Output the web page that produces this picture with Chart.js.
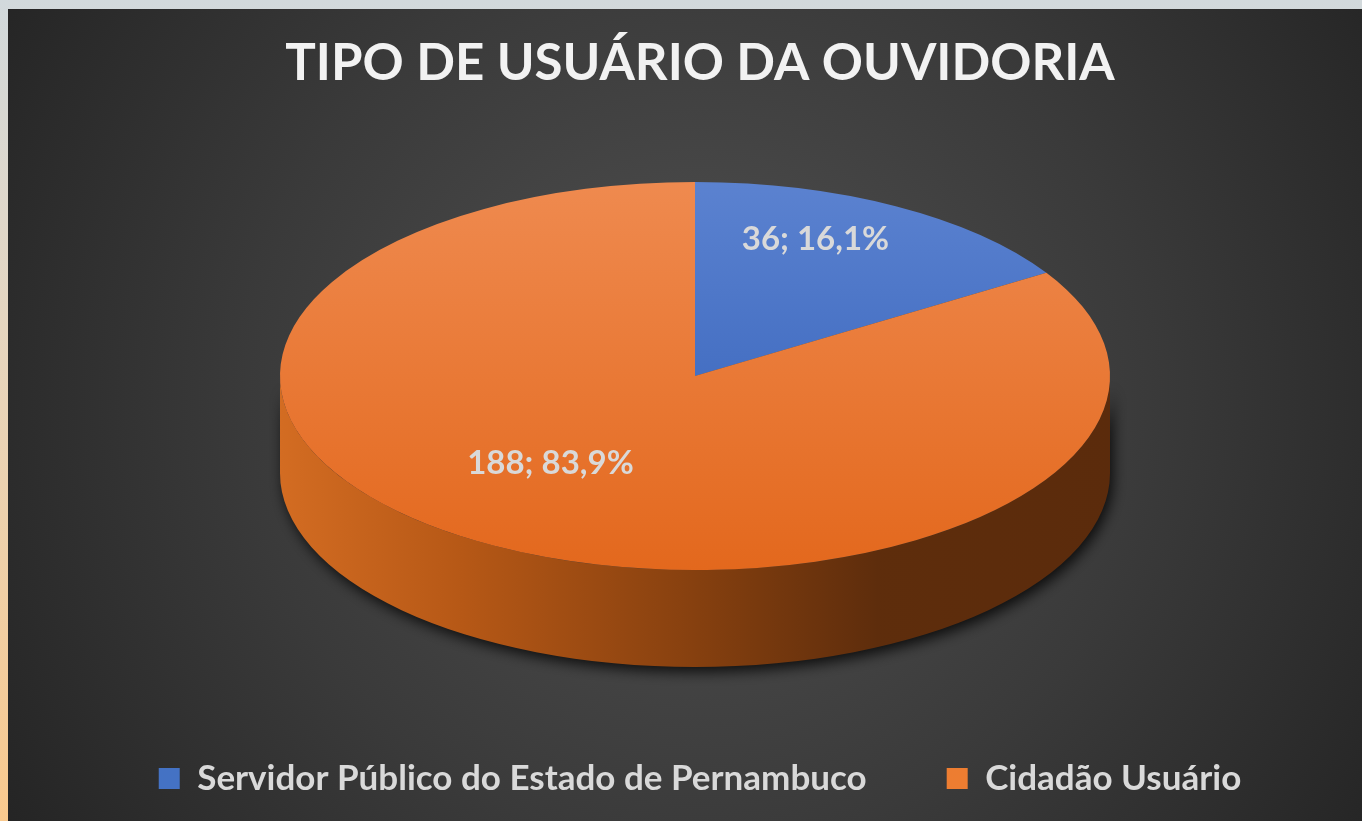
<!DOCTYPE html>
<html>
<head>
<meta charset="utf-8">
<script src="https://cdn.jsdelivr.net/npm/chart.js@4"></script>
<style>
  html, body { margin: 0; padding: 0; overflow: hidden; }
  body { width: 1362px; height: 821px; background: linear-gradient(to bottom, #d2d9dc, #e6d6c0 40%, #f9c98e); }
  #chart { position: absolute; left: 8px; top: 9px; }
</style>
</head>
<body>
<canvas id="chart" width="1354" height="812"></canvas>
<script>
const categories = ['Servidor Público do Estado de Pernambuco', 'Cidadão Usuário'];
const values = [36, 188];
const chartTitle = 'TIPO DE USUÁRIO DA OUVIDORIA';

// colours (top face gradient: light -> dark)
const topLight = ['#5b82d0', '#ef8a4f'];
const topDark = ['#2f5db6', '#e3681d'];
const legendColors = ['#4472c4', '#ed7d31'];

// 3d look
const pieCenter = { x: 687, y: 367 };
const pieRadius = { x: 415, y: 194 };
const pieDepth = 97;
const labelRadius = [0.6, 0.72];
const labelLift = 35;

const total = values.reduce((a, b) => a + b, 0);

const faceColor = (c) => {
  const area = c.chart.chartArea;
  const i = c.dataIndex;
  if (!area) return legendColors[i];
  const cy = (area.top + area.bottom) / 2;
  const r = Math.min(area.width, area.height) / 2;
  const g = c.chart.ctx.createLinearGradient(0, cy - r, 0, cy + r);
  g.addColorStop(0, topLight[i]);
  g.addColorStop(1, topDark[i]);
  return g;
};

const background = {
  id: 'background',
  beforeDraw(chart) {
    const ctx = chart.ctx;
    const g = ctx.createRadialGradient(690, 390, 0, 690, 390, 820);
    g.addColorStop(0, '#515151');
    g.addColorStop(0.55, '#3a3a3a');
    g.addColorStop(1, '#242424');
    ctx.save();
    ctx.fillStyle = g;
    ctx.fillRect(0, 0, chart.width, chart.height);
    ctx.restore();
  }
};

const pie3d = {
  id: 'pie3d',
  beforeDatasetsDraw(chart) {
    const ctx = chart.ctx;
    const arcs = chart.getDatasetMeta(0).data;
    const { x: cx, y: cy, outerRadius: r } = arcs[0];
    const { x: tx, y: ty } = pieCenter;
    const { x: rx, y: ry } = pieRadius;

    // side wall, only the front half (angles 0..PI) can be seen
    const wall = ctx.createLinearGradient(tx - rx, 0, tx + rx, 0);
    wall.addColorStop(0, '#d36c22');
    wall.addColorStop(0.22, '#b65816');
    wall.addColorStop(0.5, '#86400f');
    wall.addColorStop(0.72, '#5e2d0c');
    wall.addColorStop(1, '#5b2b0c');
    const wallBlue = ctx.createLinearGradient(tx - rx, 0, tx + rx, 0);
    wallBlue.addColorStop(0, '#3a62b0');
    wallBlue.addColorStop(1, '#1c3a74');
    ctx.save();
    ctx.shadowColor = 'rgba(0,0,0,0.8)';
    ctx.shadowBlur = 14;
    ctx.shadowOffsetX = 3;
    ctx.shadowOffsetY = 5;
    arcs.forEach((arc, i) => {
      let s = arc.startAngle, e = arc.endAngle;
      const twoPi = Math.PI * 2;
      [-twoPi, 0, twoPi].forEach(k => {
        const a0 = Math.max(s + k, 0);
        const a1 = Math.min(e + k, Math.PI);
        if (a1 <= a0) return;
        ctx.beginPath();
        ctx.ellipse(tx, ty, rx, ry, 0, a0, a1);
        ctx.ellipse(tx, ty + pieDepth, rx, ry, 0, a1, a0, true);
        ctx.closePath();
        ctx.fillStyle = i === 0 ? wallBlue : wall;
        ctx.fill();
      });
    });
    ctx.restore();

    // squash the flat pie into the top face
    ctx.save();
    ctx.translate(tx, ty);
    ctx.scale(rx / r, ry / r);
    ctx.translate(-cx, -cy);
  },
  afterDatasetsDraw(chart) {
    const ctx = chart.ctx;
    ctx.restore();
    const arcs = chart.getDatasetMeta(0).data;
    ctx.save();
    ctx.font = 'bold 33px Lato';
    ctx.fillStyle = '#d9d9d9';
    ctx.textAlign = 'center';
    ctx.textBaseline = 'middle';
    arcs.forEach((arc, i) => {
      const mid = (arc.startAngle + arc.endAngle) / 2;
      const f = labelRadius[i];
      const px = pieCenter.x + pieRadius.x * f * Math.cos(mid);
      const py = pieCenter.y + pieRadius.y * f * Math.sin(mid) - labelLift;
      const pct = (values[i] / total * 100).toFixed(1).replace('.', ',');
      ctx.fillText(values[i] + '; ' + pct + '%', px, py);
    });
    ctx.restore();
  }
};

new Chart(document.getElementById('chart'), {
  type: 'pie',
  data: {
    labels: categories,
    datasets: [{
      data: values,
      backgroundColor: faceColor,
      borderWidth: 0
    }]
  },
  options: {
    responsive: false,
    animation: false,
    events: [],
    layout: { padding: { left: 50, right: 20, top: 0, bottom: 15 } },
    plugins: {
      title: {
        display: true,
        text: chartTitle,
        color: '#f2f2f2',
        font: { family: 'Lato', size: 51, weight: 'bold' },
        padding: { top: 24, bottom: 10 }
      },
      legend: {
        position: 'bottom',
        labels: {
          color: '#d9d9d9',
          font: { family: 'Lato', size: 35, weight: 'bold' },
          boxWidth: 21,
          boxHeight: 21,
          padding: 80,
          generateLabels: () => categories.map((t, i) => ({
            text: t,
            fillStyle: legendColors[i],
            strokeStyle: legendColors[i],
            fontColor: '#d9d9d9',
            lineWidth: 0,
            hidden: false,
            index: i
          }))
        }
      },
      tooltip: { enabled: false }
    }
  },
  plugins: [background, pie3d]
});
</script>
</body>
</html>
